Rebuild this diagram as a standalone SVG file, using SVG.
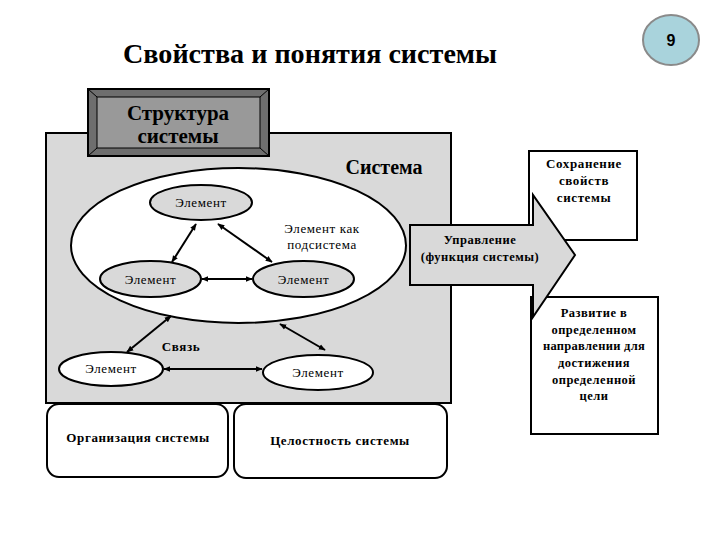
<svg xmlns="http://www.w3.org/2000/svg" width="720" height="540" viewBox="0 0 720 540">
<defs>
<marker id="ah" viewBox="0 0 10 10" refX="9" refY="5" markerWidth="7" markerHeight="7" orient="auto-start-reverse" markerUnits="userSpaceOnUse">
<path d="M0,1 L10,5 L0,9 Z" fill="#000"/>
</marker>
<style>
.t{font-family:"Liberation Serif","Times New Roman",serif;fill:#000;text-anchor:middle}
.b{font-weight:bold}
.s{font-size:13px;letter-spacing:0.6px}
.el{stroke:#000;stroke-width:2}
.con{stroke:#000;stroke-width:2;fill:none;marker-start:url(#ah);marker-end:url(#ah)}
</style>
</defs>
<rect width="720" height="540" fill="#fff"/>
<text class="t b" x="310" y="63" font-size="27" textLength="374" lengthAdjust="spacingAndGlyphs">Свойства и понятия системы</text>
<g id="page-number">
<ellipse cx="671" cy="40" rx="28" ry="25" fill="#a9d3dc" stroke="#8a8a8a" stroke-width="2"/>
<text x="671" y="46" font-family="Liberation Sans,Arial,sans-serif" font-weight="bold" font-size="16" text-anchor="middle">9</text>
</g>
<g id="system">
<rect x="46" y="133" width="405" height="270" fill="#d9d9d9" stroke="#000" stroke-width="2"/>
<text class="t b" x="384" y="174" font-size="20">Система</text>
</g>
<g id="structure">
<rect x="88" y="89" width="181" height="67" fill="#6e6e6e" stroke="#000" stroke-width="2"/>
<rect x="97" y="97" width="163" height="51" fill="#999" stroke="#000" stroke-width="1"/>
<path d="M88,89 L97,97 M269,89 L260,97 M88,156 L97,148 M269,156 L260,148" stroke="#000" stroke-width="1"/>
<text class="t b" x="178" y="120" font-size="21">Структура</text>
<text class="t b" x="178" y="143" font-size="21">системы</text>
</g>
<g id="system-ellipse">
<ellipse cx="238.5" cy="245.5" rx="167.5" ry="77.5" fill="#fff" class="el"/>
<text class="t s" x="322" y="233">Элемент как</text>
<text class="t s" x="322" y="249">подсистема</text>
</g>
<g id="element-top">
<ellipse cx="201" cy="202.5" rx="51" ry="17.5" fill="#d9d9d9" class="el"/>
<text class="t s" x="201" y="207">Элемент</text>
</g>
<g id="element-mid-left">
<ellipse cx="150.5" cy="279" rx="50.5" ry="18" fill="#d9d9d9" class="el"/>
<text class="t s" x="150.5" y="283.5">Элемент</text>
</g>
<g id="element-mid-right">
<ellipse cx="303.5" cy="279" rx="50.5" ry="18" fill="#d9d9d9" class="el"/>
<text class="t s" x="303.5" y="283.5">Элемент</text>
</g>
<g id="element-bottom-left">
<ellipse cx="111" cy="369" rx="52" ry="17" fill="#fff" class="el"/>
<text class="t s" x="111" y="373">Элемент</text>
</g>
<g id="element-bottom-right">
<ellipse cx="318" cy="372.5" rx="55" ry="17.5" fill="#fff" class="el"/>
<text class="t s" x="318" y="377">Элемент</text>
</g>
<g id="connectors">
<line class="con" x1="196" y1="224" x2="172" y2="262"/>
<line class="con" x1="218" y1="224" x2="272" y2="262"/>
<line class="con" x1="202" y1="279" x2="252" y2="279"/>
<line class="con" x1="171" y1="316" x2="127" y2="352"/>
<line class="con" x1="280" y1="324" x2="325" y2="350"/>
<line class="con" x1="164" y1="369" x2="262" y2="369"/>
</g>
<text class="t b s" x="181" y="351">Связь</text>
<g id="preservation">
<rect x="529" y="151" width="108" height="89" fill="#fff" stroke="#000" stroke-width="2"/>
<text class="t b s" x="584" y="168">Сохранение</text>
<text class="t b s" x="584" y="185">свойств</text>
<text class="t b s" x="584" y="202">системы</text>
</g>
<g id="development">
<rect x="531" y="297" width="127" height="137" fill="#fff" stroke="#000" stroke-width="2"/>
<text class="t b" x="594" y="317" font-size="12.5" letter-spacing="0.5">Развитие в</text>
<text class="t b" x="594" y="334" font-size="12.5" letter-spacing="0.5">определенном</text>
<text class="t b" x="594" y="350" font-size="12.5" letter-spacing="0.3">направлении для</text>
<text class="t b" x="594" y="367" font-size="12.5" letter-spacing="0.5">достижения</text>
<text class="t b" x="594" y="384" font-size="12.5" letter-spacing="0.5">определенной</text>
<text class="t b" x="594" y="400" font-size="12.5" letter-spacing="0.5">цели</text>
</g>
<g id="management">
<path d="M410,225 L533,225 L533,195 L575,255 L533,317 L533,285 L410,285 Z" fill="#d9d9d9" stroke="#000" stroke-width="2" stroke-linejoin="miter"/>
<text class="t b" x="480" y="244" font-size="12.5" letter-spacing="0.5">Управление</text>
<text class="t b" x="480" y="261" font-size="12.5" letter-spacing="0.5">(функция системы)</text>
</g>
<g id="organization">
<rect x="47" y="404" width="181" height="73" rx="12" fill="#fff" stroke="#000" stroke-width="2"/>
<text class="t b s" x="138" y="442">Организация системы</text>
</g>
<g id="integrity">
<rect x="234" y="404" width="213" height="74" rx="12" fill="#fff" stroke="#000" stroke-width="2"/>
<text class="t b s" x="340" y="445">Целостность системы</text>
</g>
</svg>
